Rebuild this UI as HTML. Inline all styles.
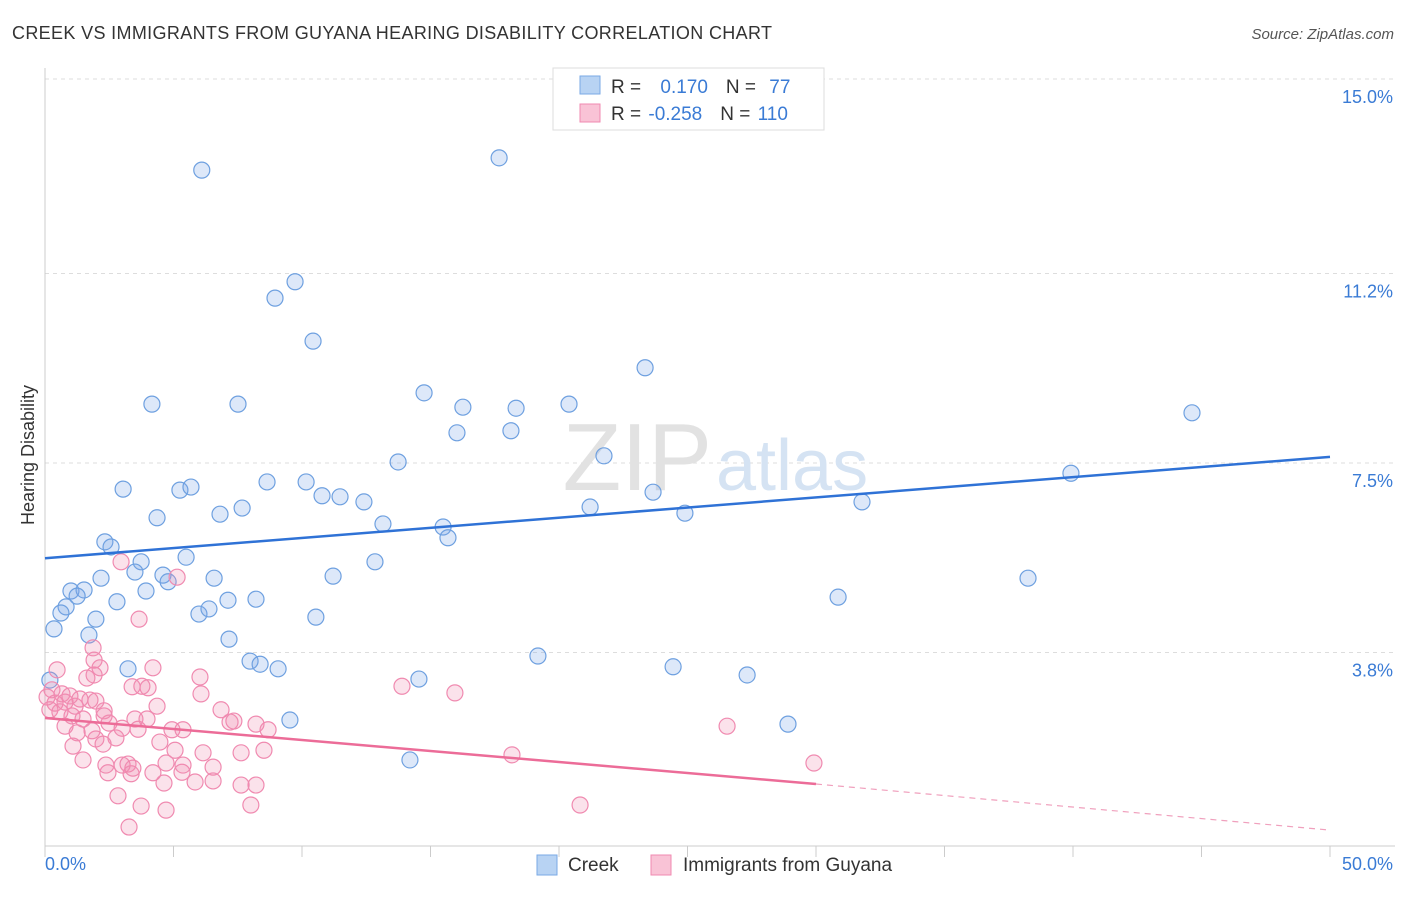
<!DOCTYPE html>
<html><head><meta charset="utf-8"><style>
body{margin:0;background:#fff;font-family:"Liberation Sans",sans-serif}
svg text{font-family:"Liberation Sans",sans-serif}
</style></head><body>
<svg id="chart" width="1406" height="892">
<text x="12" y="39" font-size="18" fill="#333" textLength="760" lengthAdjust="spacing">CREEK VS IMMIGRANTS FROM GUYANA HEARING DISABILITY CORRELATION CHART</text>
<text x="1394" y="39" font-size="15" fill="#555" font-style="italic" text-anchor="end">Source: ZipAtlas.com</text>
<g id="grid"></g>
<text x="712" y="490" font-size="96" fill="#e2e2e2" text-anchor="end" font-family="Liberation Serif">ZIP</text>
<text x="716" y="490" font-size="72" fill="#d5e3f3">atlas</text>
<text x="34" y="455" font-size="18" fill="#333" transform="rotate(-90 34 455)" text-anchor="middle">Hearing Disability</text>
<g id="marks"></g>
<g>
<rect x="553" y="68" width="271" height="62" fill="#fff" stroke="#ddd"/>
<rect x="580" y="76" width="20" height="18" fill="#b8d3f3" stroke="#7aaae6"/>
<rect x="580" y="104" width="20" height="18" fill="#f9c3d6" stroke="#f08ab0"/>
<text x="611" y="93" font-size="19" fill="#333">R = <tspan fill="#3a7bd5" dx="14">0.170</tspan><tspan dx="18">N = </tspan><tspan fill="#3a7bd5" dx="8">77</tspan></text>
<text x="611" y="120" font-size="19" fill="#333">R = <tspan fill="#3a7bd5" dx="2">-0.258</tspan><tspan dx="18">N = </tspan><tspan fill="#3a7bd5" dx="2">110</tspan></text>
</g>
<g>
<rect x="537" y="855" width="20" height="20" fill="#b8d3f3" stroke="#7aaae6"/>
<text x="568" y="871" font-size="19" fill="#333">Creek</text>
<rect x="651" y="855" width="20" height="20" fill="#f9c3d6" stroke="#f08ab0"/>
<text x="683" y="871" font-size="19" fill="#333">Immigrants from Guyana</text>
</g>
</svg>
<script>
const yTicks=[15.0,11.2,7.5,3.8];
const yTickLabels=["15.0%","11.2%","7.5%","3.8%"];
const xTicks=[0,5,10,15,20,25,30,35,40,45,50];
const creekX=[6.1,17.67,9.73,8.95,10.43,23.35,14.75,4.16,7.51,16.26,18.33,20.39,44.63,16.03,18.13,13.74,21.75,39.92,3.04,5.25,5.68,8.64,10.16,10.78,11.48,12.41,23.66,21.21,24.9,31.79,4.36,6.81,7.67,13.15,15.49,15.68,2.33,2.57,3.74,5.49,3.5,4.59,4.79,6.58,11.21,12.84,2.18,1.01,1.52,1.25,3.93,2.8,0.82,0.62,0.35,1.98,1.71,5.99,6.38,7.12,8.21,10.54,7.16,30.86,38.25,19.18,7.98,8.37,9.07,3.23,14.55,24.44,27.32,9.53,28.91,14.2,0.19];
const creekY=[13.22,13.46,11.04,10.72,9.88,9.36,8.87,8.65,8.65,8.59,8.57,8.65,8.48,8.09,8.13,7.52,7.64,7.3,6.99,6.97,7.03,7.13,7.13,6.86,6.84,6.74,6.93,6.64,6.52,6.74,6.43,6.5,6.62,6.31,6.25,6.04,5.96,5.86,5.57,5.66,5.37,5.31,5.18,5.25,5.29,5.57,5.25,5.0,5.02,4.9,5.0,4.79,4.69,4.57,4.26,4.45,4.14,4.55,4.65,4.82,4.84,4.49,4.06,4.88,5.25,3.73,3.63,3.57,3.48,3.48,3.28,3.52,3.36,2.48,2.4,1.7,3.26];
const guyX=[2.96,5.14,3.66,1.87,1.91,2.14,4.2,0.47,1.63,1.91,6.03,3.77,4.01,3.39,13.89,15.95,6.07,0.27,0.66,0.97,1.36,1.75,0.08,0.39,0.78,1.17,1.98,0.19,0.58,1.05,1.48,2.3,4.36,6.85,3.5,3.97,2.49,3.0,3.62,4.94,5.37,7.2,7.35,8.21,8.68,0.78,1.25,1.98,2.76,2.26,1.09,4.47,5.06,6.15,7.63,8.52,26.54,18.17,1.48,2.37,3.0,3.23,3.42,4.71,5.37,6.54,2.45,3.35,4.2,5.33,29.92,4.63,5.84,6.54,7.63,8.21,2.84,3.74,4.71,8.01,20.82,3.27,2.3,1.83];
const guyY=[5.57,5.27,4.45,3.89,3.65,3.5,3.5,3.46,3.3,3.36,3.32,3.14,3.11,3.13,3.14,3.01,2.99,3.07,2.99,2.95,2.89,2.87,2.93,2.81,2.83,2.75,2.85,2.68,2.64,2.56,2.5,2.56,2.75,2.68,2.5,2.5,2.42,2.32,2.3,2.29,2.29,2.44,2.46,2.4,2.29,2.36,2.23,2.11,2.13,2.01,1.97,2.05,1.89,1.84,1.84,1.89,2.36,1.8,1.7,1.6,1.6,1.62,1.54,1.64,1.6,1.56,1.45,1.43,1.45,1.46,1.64,1.25,1.27,1.29,1.21,1.21,1.0,0.8,0.72,0.82,0.82,0.39,2.66,2.27];
const creekTrendX=[0,50];
const creekTrendY=[5.64,7.62];
const guyTrendX=[0,30,50];
const guyTrendY=[2.52,1.23,0.33];
const NS="http://www.w3.org/2000/svg";
const X=v=>45+v*25.7, Y=v=>847-v*51.2;
function mk(t,a,p){const e=document.createElementNS(NS,t);for(const k in a)e.setAttribute(k,a[k]);p.appendChild(e);return e;}
const grid=document.getElementById('grid'), marks=document.getElementById('marks');
yTicks.forEach((v,i)=>{
 const l=mk('line',{x1:45,x2:1395,y1:Y(v),y2:Y(v),stroke:'#ddd','stroke-dasharray':'4,4'},grid);
 
 
 const t=mk('text',{x:1393,y:Y(v)+24,'font-size':18,fill:'#3a7bd5','text-anchor':'end'},grid);
 t.textContent=yTickLabels[i];
 
 
});
const ax=mk('line',{x1:45,x2:45,y1:68,y2:846,stroke:'#ccc'},grid);


const bx=mk('line',{x1:45,x2:1395,y1:846,y2:846,stroke:'#ccc'},grid);


xTicks.forEach(v=>{
 const l=mk('line',{x1:X(v),x2:X(v),y1:846,y2:857,stroke:'#ccc'},grid);
 
 
});
const xl0=mk('text',{x:45,y:870,'font-size':18,fill:'#3a7bd5'},grid);xl0.textContent='0.0%';


const xl1=mk('text',{x:1393,y:870,'font-size':18,fill:'#3a7bd5','text-anchor':'end'},grid);xl1.textContent='50.0%';


creekX.forEach((v,i)=>{
 const c=mk('circle',{cx:X(v),cy:Y(creekY[i]),r:8,fill:'rgba(120,165,230,0.25)',stroke:'#6ea0e0','stroke-width':1.2},marks);
 
 
});
guyX.forEach((v,i)=>{
 const c=mk('circle',{cx:X(v),cy:Y(guyY[i]),r:8,fill:'rgba(240,140,175,0.25)',stroke:'#f08ab0','stroke-width':1.2},marks);
 
 
});
const tl=mk('line',{x1:X(creekTrendX[0]),y1:Y(creekTrendY[0]),x2:X(creekTrendX[1]),y2:Y(creekTrendY[1]),stroke:'#2f72d6','stroke-width':2.5},marks);


const pl=mk('line',{x1:X(guyTrendX[0]),y1:Y(guyTrendY[0]),x2:X(guyTrendX[1]),y2:Y(guyTrendY[1]),stroke:'#ec6c98','stroke-width':2.5},marks);


const pd=mk('line',{x1:X(guyTrendX[1]),y1:Y(guyTrendY[1]),x2:X(guyTrendX[2]),y2:Y(guyTrendY[2]),stroke:'#f0a0bd','stroke-width':1.2,'stroke-dasharray':'6,5'},marks);


</script>
</body></html>
